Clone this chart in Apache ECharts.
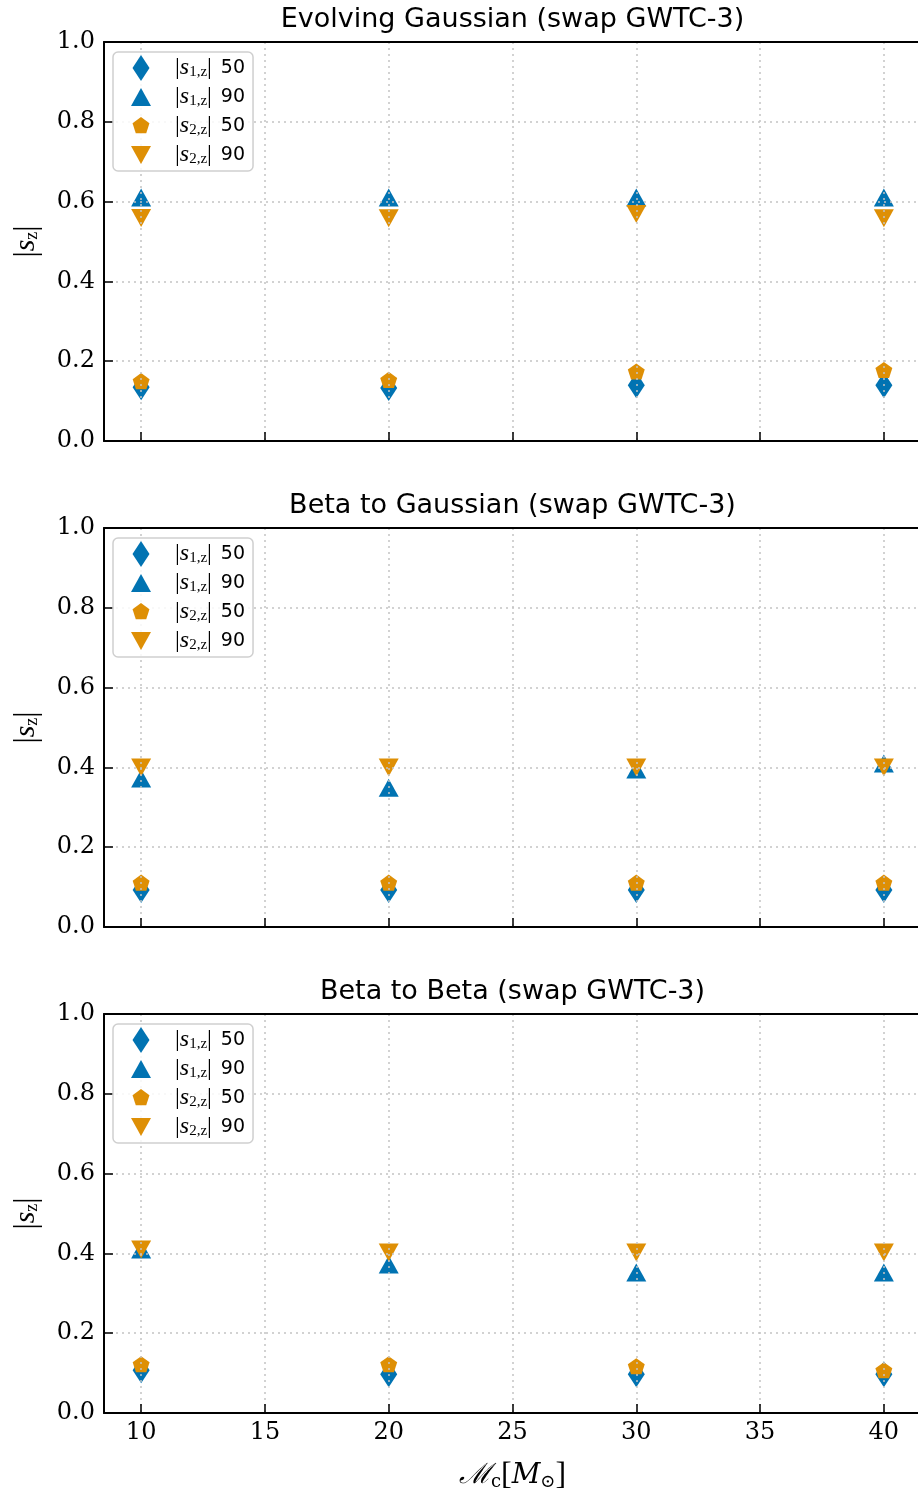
<!DOCTYPE html>
<html>
<head>
<meta charset="utf-8">
<script src="https://cdn.jsdelivr.net/npm/echarts@6/dist/echarts.min.js"></script>
<style>html,body{margin:0;padding:0;background:#fff}#c{width:918px;height:1498px}</style>
</head>
<body>
<div id="c"></div>
<script>
// ---- data ----
const masses = [10, 20, 30, 40];
const xTicks = [10, 15, 20, 25, 30, 35, 40];
const yTicks = [0.0, 0.2, 0.4, 0.6, 0.8, 1.0];
const panelTitles = ['Evolving Gaussian (swap GWTC-3)', 'Beta to Gaussian (swap GWTC-3)', 'Beta to Beta (swap GWTC-3)'];
const seriesNames = ['s1_50', 's1_90', 's2_50', 's2_90'];

const evo_s1_50 = [0.135, 0.133, 0.140, 0.140];
const evo_s1_90 = [0.610, 0.610, 0.610, 0.610];
const evo_s2_50 = [0.148, 0.151, 0.172, 0.176];
const evo_s2_90 = [0.559, 0.558, 0.569, 0.558];

const bg_s1_50 = [0.093, 0.093, 0.093, 0.093];
const bg_s1_90 = [0.372, 0.349, 0.395, 0.410];
const bg_s2_50 = [0.109, 0.109, 0.109, 0.109];
const bg_s2_90 = [0.400, 0.400, 0.400, 0.400];

const bb_s1_50 = [0.107, 0.097, 0.097, 0.097];
const bb_s1_90 = [0.410, 0.372, 0.352, 0.352];
const bb_s2_50 = [0.120, 0.120, 0.115, 0.105];
const bb_s2_90 = [0.410, 0.402, 0.402, 0.402];

const panels = [
  [evo_s1_50, evo_s1_90, evo_s2_50, evo_s2_90],
  [bg_s1_50, bg_s1_90, bg_s2_50, bg_s2_90],
  [bb_s1_50, bb_s1_90, bb_s2_50, bb_s2_90]
];

// ---- styles ----
const BLUE = '#0173B2', ORANGE = '#DE8F05';
const BOX = 'M0 0 M26 26 ';
const SYM = {
  s1_50: 'path://' + BOX + 'M13 0 L21.5 13 L13 26 L4.5 13 Z',
  s1_90: 'path://' + BOX + 'M13 4 L23 22 L3 22 Z',
  s2_50: 'path://' + BOX + 'M13 4.1 L21.46 10.25 L18.23 20.2 L7.77 20.2 L4.54 10.25 Z',
  s2_90: 'path://' + BOX + 'M3 4 L23 4 L13 22 Z'
};
const COL = { s1_50: BLUE, s1_90: BLUE, s2_50: ORANGE, s2_90: ORANGE };
const LEG = {
  s1_50: '{sp|}{n||}{i|s}{sub|1,z}{n||}{gap|}{t|50}',
  s1_90: '{sp|}{n||}{i|s}{sub|1,z}{n||}{gap|}{t|90}',
  s2_50: '{sp|}{n||}{i|s}{sub|2,z}{n||}{gap|}{t|50}',
  s2_90: '{sp|}{n||}{i|s}{sub|2,z}{n||}{gap|}{t|90}'
};
const SERIF = 'DejaVu Serif, Liberation Serif, serif';
const SERIF2 = 'Liberation Serif, DejaVu Serif, serif';
const SANS = 'DejaVu Sans, Open Sans, sans-serif';

const gridTops = [42, 528, 1014];
const GH = 399, GL = 104, GW = 817;

const grids = [], xAxes = [], yAxes = [], series = [], legends = [];
gridTops.forEach((top, p) => {
  grids.push({ left: GL, top: top, width: GW, height: GH, show: false, containLabel: false, outerBoundsMode: 'none' });
  const last = p === 2;
  xAxes.push({
    type: 'value', gridIndex: p, min: 8.5, max: 41.5, minInterval: 5, maxInterval: 5, z: 3,
    axisLine: { show: true, lineStyle: { color: '#000', width: 2 } },
    axisTick: { show: true, inside: true, length: 9, lineStyle: { color: '#000', width: 1.5 } },
    axisLabel: { show: last, margin: 8, color: '#000', fontFamily: SERIF, fontSize: 24,
      formatter: v => (xTicks.indexOf(v) >= 0 ? String(v) : '') },
    splitLine: { show: true, lineStyle: { color: '#c4c4c4', width: 1.5, type: [2, 4] } },
    name: last ? '{i|ℳ}{sub|c}{n|[}{i|M}{sub|⊙}{n|]}' : '',
    nameLocation: 'middle', nameGap: 47,
    nameTextStyle: { rich: {
      i: { fontFamily: SERIF, fontStyle: 'italic', fontSize: 28, color: '#000' },
      n: { fontFamily: SERIF2, fontSize: 32, color: '#000' },
      sub: { fontFamily: SERIF, fontSize: 18, color: '#000', padding: [12, 0, 0, 0] }
    } }
  });
  xAxes.push({
    type: 'value', gridIndex: p, position: 'top', min: 0, max: 1, z: 3,
    axisLine: { show: true, lineStyle: { color: '#000', width: 2 } },
    axisTick: { show: false }, axisLabel: { show: false }, splitLine: { show: false },
    name: panelTitles[p], nameLocation: 'middle', nameGap: 9,
    nameTextStyle: { fontFamily: SANS, fontSize: 27, color: '#000' }
  });
  yAxes.push({
    type: 'value', gridIndex: p, min: 0, max: 1, interval: 0.2, z: 3,
    axisLine: { show: true, lineStyle: { color: '#000', width: 2 } },
    axisTick: { show: true, inside: true, length: 9, lineStyle: { color: '#000', width: 1.5 } },
    axisLabel: { margin: 9, color: '#000', fontFamily: SERIF, fontSize: 24, formatter: v => v.toFixed(1) },
    splitLine: { show: true, lineStyle: { color: '#c4c4c4', width: 1.5, type: [2, 4] } },
    name: '{n||}{i|s}{sub|z}{n||}', nameLocation: 'middle', nameRotate: 90, nameGap: 62,
    nameTextStyle: { rich: {
      i: { fontFamily: SERIF2, fontStyle: 'italic', fontSize: 30, color: '#000' },
      n: { fontFamily: SERIF2, fontSize: 31, color: '#000' },
      sub: { fontFamily: SERIF2, fontSize: 18, color: '#000', padding: [12, 0, 0, 0] }
    } }
  });
  seriesNames.forEach((nm, k) => {
    series.push({
      type: 'scatter', name: nm, xAxisIndex: 2 * p, yAxisIndex: p,
      symbol: SYM[nm], symbolSize: 26, symbolKeepAspect: true,
      itemStyle: { color: COL[nm], opacity: 1 },
      data: masses.map((m, j) => [m, panels[p][k][j]]),
      z: 2
    });
  });
  legends.push({
    orient: 'vertical', left: 113, top: top + 10,
    itemWidth: 26, itemHeight: 26, itemGap: 3,
    padding: [3, 8, 3, 15],
    backgroundColor: 'rgba(255,255,255,0.85)', borderColor: '#cfcfcf', borderWidth: 1.5, borderRadius: 5,
    data: seriesNames, selectedMode: false,
    formatter: nm => LEG[nm],
    textStyle: { rich: {
      sp: { width: 16 },
      gap: { width: 9 },
      n: { fontFamily: SERIF2, fontSize: 24, color: '#000' },
      i: { fontFamily: SERIF2, fontStyle: 'italic', fontSize: 24, color: '#000' },
      sub: { fontFamily: SERIF2, fontSize: 15, color: '#000', padding: [9, 0, 0, 0] },
      t: { fontFamily: SANS, fontSize: 19, color: '#000' }
    } }
  });
});

const chart = echarts.init(document.getElementById('c'), null, { renderer: 'canvas' });
chart.setOption({
  animation: false,
  backgroundColor: '#fff',
  grid: grids, xAxis: xAxes, yAxis: yAxes, legend: legends, series: series
});
</script>
</body>
</html>
